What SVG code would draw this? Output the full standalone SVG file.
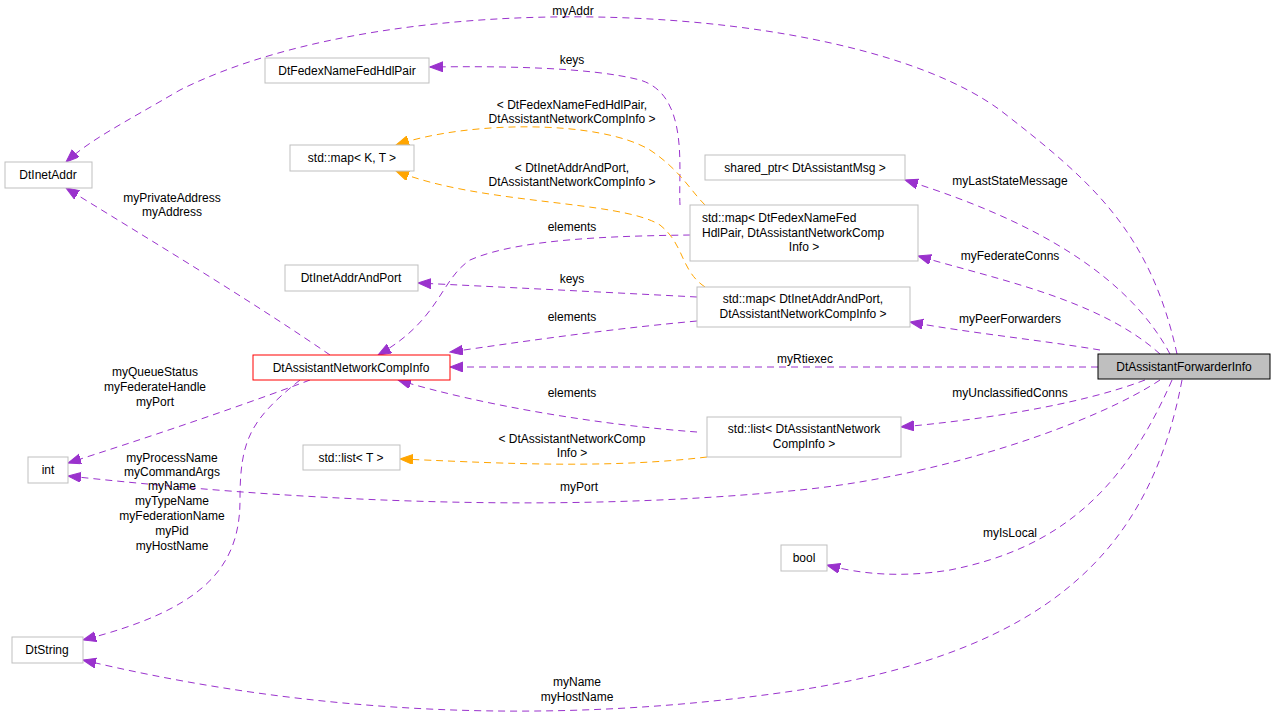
<svg xmlns="http://www.w3.org/2000/svg" width="1275" height="719" viewBox="0 0 1275 719">
<style>
text{font-family:"Liberation Sans",Arial,sans-serif;font-size:12px;fill:#000}
.n rect{fill:#fff;stroke:#bfbfbf;stroke-width:1}
.p{fill:none;stroke:#9a32cd;stroke-width:1;stroke-dasharray:7,5}
.o{fill:none;stroke:#ffa500;stroke-width:1;stroke-dasharray:7,5}
</style>
<defs>
<marker id="ap" markerUnits="userSpaceOnUse" markerWidth="14" markerHeight="12" refX="13" refY="5" orient="auto"><path d="M0,0 L13,5 L0,10 Z" fill="#9a32cd" stroke="#9a32cd"/></marker>
<marker id="ao" markerUnits="userSpaceOnUse" markerWidth="14" markerHeight="12" refX="13" refY="5" orient="auto"><path d="M0,0 L13,5 L0,10 Z" fill="#ffa500" stroke="#ffa500"/></marker>
</defs>
<rect width="1275" height="719" fill="#fff"/>
<g id="edges">
<path class="p" marker-end="url(#ap)" d="M1177,354 C1150,230 1090,180 1000,110 C850,0 400,-20 180,90 C120,125 90,140 66,162"/>
<path class="p" marker-end="url(#ap)" d="M680,205 C678,170 690,95 640,80 C590,67 500,66 430,67"/>
<path class="o" marker-end="url(#ao)" d="M705,205 C690,190 680,170 650,150 C600,120 470,120 396,145"/>
<path class="o" marker-end="url(#ao)" d="M705,287 C680,270 685,245 660,225 C620,200 480,205 396,171"/>
<path class="p" marker-end="url(#ap)" d="M690,235 C620,236 520,238 470,260 C440,280 440,320 378,355"/>
<path class="p" marker-end="url(#ap)" d="M697,297 C600,292 500,287 418,283"/>
<path class="p" marker-end="url(#ap)" d="M697,321 C600,330 520,342 450,352"/>
<path class="p" marker-end="url(#ap)" d="M330,355 C250,300 150,240 66,188"/>
<path class="p" marker-end="url(#ap)" d="M310,380 C230,410 140,440 68,463"/>
<path class="p" marker-end="url(#ap)" d="M300,380 C250,420 240,440 240,500 C240,570 200,610 83,640"/>
<path class="p" marker-end="url(#ap)" d="M697,432 C600,425 480,405 398,380"/>
<path class="o" marker-end="url(#ao)" d="M707,457 C600,470 480,462 400,459"/>
<path class="p" marker-end="url(#ap)" d="M1170,354 C1120,260 1000,210 905,180"/>
<path class="p" marker-end="url(#ap)" d="M1160,354 C1100,300 1000,280 918,256"/>
<path class="p" marker-end="url(#ap)" d="M1100,350 C1040,340 970,333 910,322"/>
<path class="p" marker-end="url(#ap)" d="M1098,367 L450,367"/>
<path class="p" marker-end="url(#ap)" d="M1145,380 C1080,405 980,420 901,427"/>
<path class="p" marker-end="url(#ap)" d="M1160,380 C1100,420 950,475 800,490 C500,520 200,490 68,476"/>
<path class="p" marker-end="url(#ap)" d="M1172,380 C1120,500 1050,550 950,570 C900,578 860,574 827,565"/>
<path class="p" marker-end="url(#ap)" d="M1182,380 C1150,550 1050,650 800,690 C500,735 250,700 83,660"/>
</g>
<g id="labels" text-anchor="middle">
<text x="573" y="15">myAddr</text>
<text x="572" y="64">keys</text>
<text x="572" y="109">&lt; DtFedexNameFedHdlPair,</text>
<text x="572" y="123">DtAssistantNetworkCompInfo &gt;</text>
<text x="572" y="172">&lt; DtInetAddrAndPort,</text>
<text x="572" y="186">DtAssistantNetworkCompInfo &gt;</text>
<text x="572" y="231">elements</text>
<text x="572" y="283">keys</text>
<text x="572" y="321">elements</text>
<text x="572" y="397">elements</text>
<text x="572" y="443">&lt; DtAssistantNetworkComp</text>
<text x="572" y="457">Info &gt;</text>
<text x="172" y="202">myPrivateAddress</text>
<text x="172" y="216">myAddress</text>
<text x="155" y="376">myQueueStatus</text>
<text x="155" y="391">myFederateHandle</text>
<text x="155" y="406">myPort</text>
<text x="172" y="462">myProcessName</text>
<text x="172" y="476">myCommandArgs</text>
<text x="172" y="490">myName</text>
<text x="172" y="505">myTypeName</text>
<text x="172" y="520">myFederationName</text>
<text x="172" y="535">myPid</text>
<text x="172" y="550">myHostName</text>
<text x="1010" y="185">myLastStateMessage</text>
<text x="1010" y="260">myFederateConns</text>
<text x="1010" y="323">myPeerForwarders</text>
<text x="805" y="363">myRtiexec</text>
<text x="1010" y="397">myUnclassifiedConns</text>
<text x="579" y="491">myPort</text>
<text x="1010" y="537">myIsLocal</text>
<text x="577" y="686">myName</text>
<text x="577" y="701">myHostName</text>
</g>
<g id="DtInetAddr" class="n"><rect x="5" y="162" width="87" height="26"/><text x="48" y="179" text-anchor="middle">DtInetAddr</text></g>
<g id="DtFedexNameFedHdlPair" class="n"><rect x="265" y="58" width="164" height="25"/><text x="347" y="75" text-anchor="middle">DtFedexNameFedHdlPair</text></g>
<g id="stdmapKT" class="n"><rect x="290" y="145" width="124" height="26"/><text x="352" y="162" text-anchor="middle">std::map&lt; K, T &gt;</text></g>
<g id="DtInetAddrAndPort" class="n"><rect x="285" y="265" width="133" height="26"/><text x="351" y="282" text-anchor="middle">DtInetAddrAndPort</text></g>
<g id="DtAssistantNetworkCompInfo" class="n"><rect x="253" y="355" width="197" height="25" style="stroke:#ff0000"/><text x="351" y="372" text-anchor="middle">DtAssistantNetworkCompInfo</text></g>
<g id="int" class="n"><rect x="28" y="457" width="40" height="26"/><text x="48" y="474" text-anchor="middle">int</text></g>
<g id="stdlistT" class="n"><rect x="303" y="445" width="97" height="25"/><text x="351" y="462" text-anchor="middle">std::list&lt; T &gt;</text></g>
<g id="DtString" class="n"><rect x="12" y="637" width="71" height="26"/><text x="47" y="654" text-anchor="middle">DtString</text></g>
<g id="shared_ptr" class="n"><rect x="705" y="155" width="200" height="25"/><text x="805" y="172" text-anchor="middle">shared_ptr&lt; DtAssistantMsg &gt;</text></g>
<g id="mapFedex" class="n"><rect x="690" y="205" width="228" height="56"/><text x="702" y="222">std::map&lt; DtFedexNameFed</text><text x="702" y="237">HdlPair, DtAssistantNetworkComp</text><text x="804" y="251" text-anchor="middle">Info &gt;</text></g>
<g id="mapInet" class="n"><rect x="697" y="287" width="213" height="40"/><text x="803" y="303" text-anchor="middle">std::map&lt; DtInetAddrAndPort,</text><text x="803" y="318" text-anchor="middle">DtAssistantNetworkCompInfo &gt;</text></g>
<g id="DtAssistantForwarderInfo" class="n"><rect x="1098" y="354" width="172" height="25" style="fill:#bfbfbf;stroke:#000"/><text x="1184" y="371" text-anchor="middle">DtAssistantForwarderInfo</text></g>
<g id="listComp" class="n"><rect x="707" y="417" width="194" height="40"/><text x="804" y="433" text-anchor="middle">std::list&lt; DtAssistantNetwork</text><text x="804" y="448" text-anchor="middle">CompInfo &gt;</text></g>
<g id="bool" class="n"><rect x="781" y="545" width="46" height="26"/><text x="804" y="562" text-anchor="middle">bool</text></g>
</svg>
